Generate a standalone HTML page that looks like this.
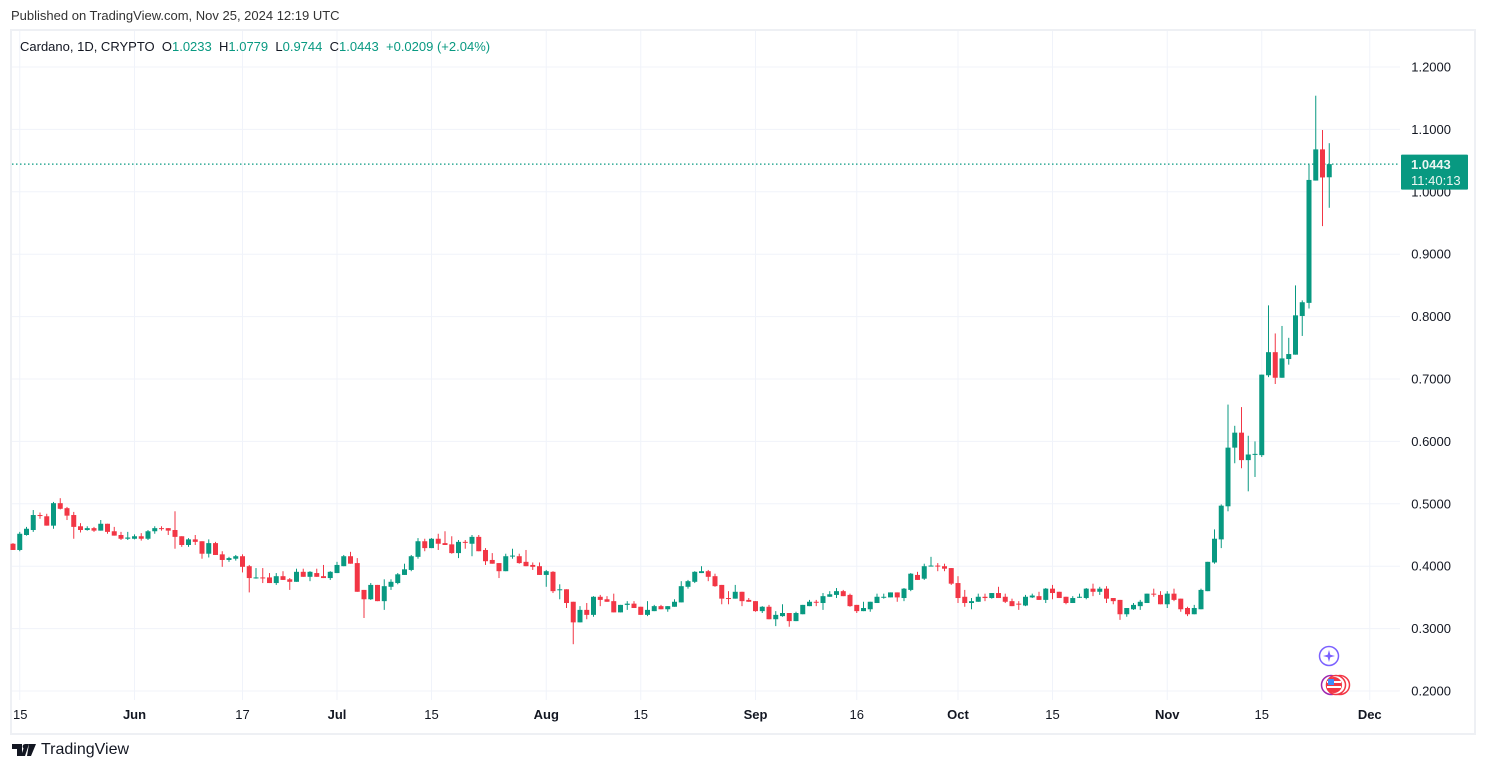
<!DOCTYPE html>
<html><head><meta charset="utf-8">
<style>
html,body{margin:0;padding:0;background:#fff;}
body{width:1485px;height:770px;overflow:hidden;position:relative;font-family:"Liberation Sans",sans-serif;color:#131722;}
#pub{position:absolute;left:11px;top:8px;font-size:13px;color:#333;}
#frame{position:absolute;left:10px;top:29px;width:1462px;height:702px;border:2px solid #eef0f4;box-sizing:content-box;}
#legend{position:absolute;left:20px;top:39px;font-size:13px;color:#131722;white-space:pre;}
#legend .g{color:#089981;}
#logo{position:absolute;left:12px;top:741px;font-size:16px;color:#131722;display:flex;align-items:center;gap:5px;}
svg{position:absolute;left:0;top:0;}
</style></head>
<body>
<div id="pub">Published on TradingView.com, Nov 25, 2024 12:19 UTC</div>
<div id="frame"></div>
<svg id="chart" width="1485" height="770"></svg>
<div id="legend">Cardano, 1D, CRYPTO  O<span class="g">1.0233</span>  H<span class="g">1.0779</span>  L<span class="g">0.9744</span>  C<span class="g">1.0443</span>  <span class="g">+0.0209 (+2.04%)</span></div>
<div id="logo"><svg width="24" height="12" style="position:static"><path d="M0 0h10v12h-5v-7h-5z M13 0h4l-4 12h-4z" fill="#131722"/><circle cx="13" cy="2.5" r="2.4" fill="#131722"/><path d="M17 0h7l-5 12h-4z" fill="#131722"/></svg><span>TradingView</span></div>
<script>
const opens=[.436,.426,.450,.458,.482,.480,.465,.501,.493,.482,.464,.458,.461,.457,.468,.456,.450,.444,.444,.448,.444,.456,.461,.461,.458,.448,.434,.443,.440,.420,.437,.419,.410,.412,.416,.400,.381,.382,.382,.373,.384,.379,.375,.391,.383,.389,.384,.381,.389,.400,.416,.405,.362,.347,.370,.344,.367,.373,.386,.394,.415,.440,.429,.444,.437,.435,.421,.439,.436,.447,.426,.410,.405,.392,.416,.416,.407,.402,.400,.386,.391,.362,.363,.343,.310,.330,.322,.351,.347,.344,.326,.338,.340,.335,.322,.328,.336,.331,.335,.342,.367,.375,.389,.392,.384,.370,.349,.348,.359,.346,.344,.328,.335,.315,.320,.325,.312,.323,.336,.343,.341,.351,.354,.360,.354,.338,.328,.331,.341,.350,.350,.358,.349,.362,.386,.380,.400,.401,.400,.397,.373,.351,.341,.343,.351,.349,.357,.351,.344,.340,.337,.350,.352,.346,.364,.359,.351,.341,.350,.349,.364,.359,.364,.349,.346,.323,.331,.336,.341,.356,.354,.339,.356,.348,.333,.323,.331,.360,.406,.443,.496,.590,.614,.570,.579,.578,.706,.743,.702,.732,.739,.801,.822,1.018,1.068,1.0233];
const highs=[.437,.455,.463,.490,.486,.484,.503,.509,.495,.487,.469,.464,.463,.474,.468,.463,.455,.455,.451,.453,.458,.464,.464,.461,.488,.448,.445,.450,.440,.443,.439,.424,.415,.418,.419,.402,.397,.397,.389,.389,.392,.381,.396,.396,.392,.396,.402,.392,.407,.418,.423,.413,.362,.373,.370,.379,.379,.389,.404,.418,.445,.444,.445,.452,.456,.448,.442,.442,.450,.450,.429,.421,.405,.420,.428,.420,.426,.406,.406,.394,.392,.371,.363,.343,.336,.341,.352,.354,.352,.356,.338,.344,.344,.335,.344,.338,.338,.336,.347,.376,.378,.392,.400,.394,.388,.370,.360,.370,.359,.349,.344,.336,.338,.328,.339,.325,.327,.338,.346,.346,.357,.360,.365,.362,.356,.338,.343,.343,.356,.356,.358,.358,.365,.389,.391,.404,.415,.405,.404,.397,.384,.362,.349,.356,.356,.357,.367,.356,.348,.344,.354,.356,.359,.365,.370,.359,.351,.352,.356,.365,.372,.367,.368,.349,.346,.333,.341,.346,.356,.364,.360,.360,.364,.348,.335,.338,.364,.407,.459,.499,.659,.625,.655,.609,.600,.707,.818,.773,.785,.766,.850,.826,1.044,1.154,1.099,1.0779];
const lows=[.426,.424,.449,.455,.476,.465,.460,.491,.474,.444,.454,.457,.455,.457,.452,.449,.442,.442,.443,.441,.442,.452,.457,.450,.428,.431,.431,.434,.412,.414,.418,.399,.407,.409,.390,.358,.380,.373,.373,.370,.378,.362,.375,.383,.376,.383,.381,.378,.389,.400,.404,.359,.317,.346,.344,.330,.362,.371,.386,.392,.412,.424,.429,.426,.434,.420,.413,.428,.416,.424,.402,.404,.381,.392,.412,.404,.400,.394,.386,.367,.357,.347,.333,.275,.310,.315,.319,.336,.343,.326,.326,.330,.333,.322,.320,.328,.331,.327,.335,.342,.364,.373,.389,.376,.367,.339,.339,.348,.336,.343,.327,.325,.315,.304,.319,.303,.312,.323,.336,.336,.330,.351,.349,.352,.335,.325,.328,.327,.341,.348,.350,.343,.344,.360,.378,.378,.400,.392,.392,.370,.341,.335,.331,.343,.344,.348,.349,.341,.336,.330,.336,.349,.346,.341,.347,.349,.339,.341,.349,.347,.352,.354,.341,.339,.314,.319,.330,.330,.341,.351,.339,.333,.344,.327,.320,.323,.331,.360,.404,.429,.488,.565,.557,.520,.543,.575,.703,.692,.702,.723,.739,.769,.813,1.018,.945,.9744];
const closes=[.426,.452,.460,.482,.481,.465,.501,.492,.481,.463,.458,.461,.457,.468,.455,.449,.444,.446,.448,.444,.456,.461,.460,.457,.447,.434,.443,.439,.420,.437,.418,.410,.413,.416,.399,.381,.382,.381,.373,.384,.378,.375,.391,.383,.391,.383,.381,.391,.402,.416,.404,.359,.347,.370,.344,.368,.375,.387,.395,.416,.440,.429,.444,.436,.434,.421,.439,.438,.447,.424,.408,.404,.392,.416,.417,.405,.400,.399,.386,.392,.360,.363,.341,.310,.330,.322,.351,.346,.343,.326,.338,.340,.333,.322,.330,.336,.331,.336,.343,.368,.376,.391,.392,.383,.368,.348,.348,.359,.344,.343,.328,.335,.315,.322,.325,.312,.325,.338,.343,.342,.352,.355,.360,.352,.336,.328,.333,.343,.351,.351,.358,.350,.364,.388,.378,.400,.401,.400,.396,.372,.349,.341,.344,.351,.349,.357,.349,.343,.336,.339,.351,.353,.346,.364,.357,.349,.341,.349,.351,.364,.359,.364,.348,.344,.323,.333,.338,.343,.356,.355,.339,.356,.346,.331,.323,.333,.362,.407,.444,.497,.590,.614,.570,.579,.580,.707,.743,.702,.733,.740,.802,.823,1.019,1.068,1.023,1.0443];
const priceTicks=[0.2,0.3,0.4,0.5,0.6,0.7,0.8,0.9,1.0,1.1,1.2];
const dateLabels=["15","Jun","17","Jul","15","Aug","15","Sep","16","Oct","15","Nov","15","Dec"];
const dateIdx=[1,18,34,48,62,79,93,110,125,140,154,171,185,201];
const lastPrice=1.0443;

const NS="http://www.w3.org/2000/svg";
const svg=document.getElementById('chart');
const xS=i=>13+i*6.75;
const yS=p=>691-(p-0.2)*624;
function mk(tag,attrs,parent){const e=document.createElementNS(NS,tag);for(const k in attrs)e.setAttribute(k,attrs[k]);(parent||svg).appendChild(e);return e;}

const grid=mk('g',{});


priceTicks.forEach(p=>{
  const l=mk('line',{x1:12,x2:1400,y1:yS(p),y2:yS(p),stroke:'#f0f3fa','stroke-width':1},grid);
  
  
});
dateIdx.forEach(d=>{
  const l=mk('line',{x1:xS(d),x2:xS(d),y1:31,y2:700,stroke:'#f0f3fa','stroke-width':1},grid);
  
  
});

// dotted last price line
const dl=mk('line',{x1:12,x2:1400,y1:yS(lastPrice),y2:yS(lastPrice),stroke:'#089981','stroke-width':1.2,'stroke-dasharray':'1.5 2.5'});



const cg=mk('g',{});


closes.forEach((c,i)=>{
  const o=opens[i],h=highs[i],l=lows[i];
  const col=c>=o?'#089981':'#f23645';
  const x=xS(i);
  const g=mk('g',{},cg);
  
  
  mk('rect',{x:x-0.5,y:yS(h),width:1,height:Math.max(1,yS(l)-yS(h)),fill:col},g);
  const top=yS(Math.max(o,c)),bot=yS(Math.min(o,c));
  mk('rect',{x:x-2.5,y:top,width:5,height:Math.max(1,bot-top),fill:col},g);
});

// price axis labels
priceTicks.forEach(p=>{
  const t=mk('text',{x:1451,y:yS(p)+4.5,'text-anchor':'end','font-size':13,fill:'#131722','font-family':'Liberation Sans, sans-serif'});
  t.textContent=p.toFixed(4);
  
  
});
// date labels
dateLabels.forEach((s,k)=>{
  const bold=isNaN(+s);
  const t=mk('text',{x:k===0?13:xS(dateIdx[k]),y:719,'text-anchor':k===0?'start':'middle','font-size':13,'font-weight':bold?'bold':'normal',fill:'#131722','font-family':'Liberation Sans, sans-serif'});
  t.textContent=s;
  
  
});

// current price box
const pb=mk('g',{});


mk('rect',{x:1401,y:yS(lastPrice)-9.5,width:67,height:35,rx:1,fill:'#089981'},pb);
const t1=mk('text',{x:1411,y:yS(lastPrice)+5,'font-size':13,'font-weight':'bold',fill:'#eaf6f2','font-family':'Liberation Sans, sans-serif'},pb);
t1.textContent=lastPrice.toFixed(4);
const t2=mk('text',{x:1411,y:yS(lastPrice)+21,'font-size':13,fill:'#eaf6f2','font-family':'Liberation Sans, sans-serif'},pb);
t2.textContent='11:40:13';

// event icons
const ev=mk('g',{});


mk('circle',{cx:1329,cy:656,r:9.5,fill:'#fff',stroke:'#7b61ff','stroke-width':1.5},ev);
mk('path',{d:'M1329 650 L1330.3 654.7 L1335 656 L1330.3 657.3 L1329 662 L1327.7 657.3 L1323 656 L1327.7 654.7 Z',fill:'#7b61ff'},ev);
const fl=mk('g',{});


mk('circle',{cx:1331,cy:685,r:9.5,fill:'#fff',stroke:'#9c27b0','stroke-width':1.5},fl);
mk('circle',{cx:1340,cy:685,r:9.5,fill:'#fff',stroke:'#f23645','stroke-width':1.5},fl);
mk('circle',{cx:1336,cy:685,r:9.5,fill:'#fff',stroke:'#f23645','stroke-width':1.5},fl);
mk('circle',{cx:1334,cy:685,r:8,fill:'#f23645'},fl);
mk('rect',{x:1327,y:681,width:14,height:2,fill:'#fff'},fl);
mk('rect',{x:1327,y:686,width:14,height:2,fill:'#fff'},fl);
mk('rect',{x:1328,y:679,width:6,height:6,fill:'#3d8bfd'},fl);
</script>
</body></html>
